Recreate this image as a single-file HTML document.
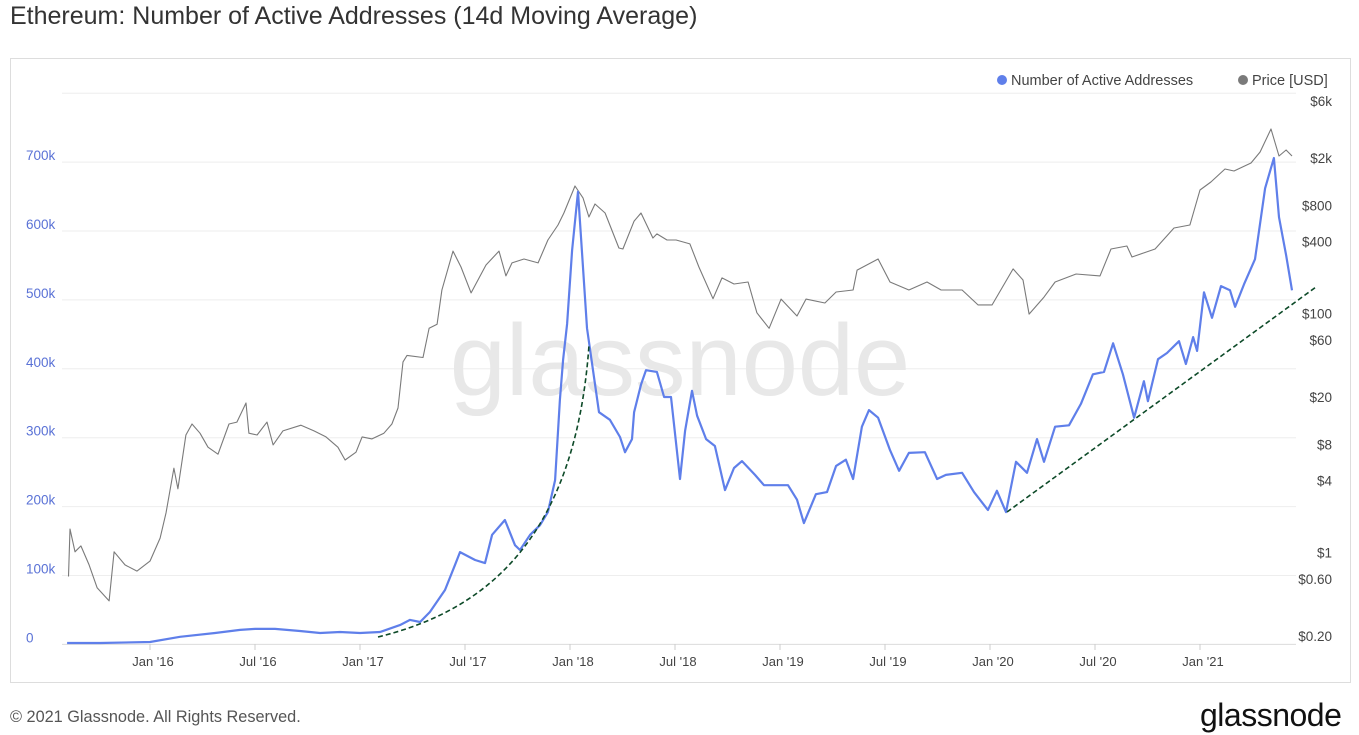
<!DOCTYPE html>
<html><head><meta charset="utf-8"><style>
body{margin:0;background:#fff;width:1359px;height:735px;overflow:hidden;font-family:"Liberation Sans",sans-serif;}
#title{position:absolute;left:10px;top:2px;font-size:25px;color:#333;}
#box{position:absolute;left:10px;top:58px;width:1339px;height:623px;border:1px solid #ddd;}
#footer{position:absolute;left:10px;top:708px;font-size:16.3px;color:#555;}
#logo{position:absolute;left:1200px;top:697px;font-size:32px;color:#111;letter-spacing:-0.5px;}
svg{position:absolute;left:0;top:0;}
</style></head><body>
<div id="title">Ethereum: Number of Active Addresses (14d Moving Average)</div>
<div id="box"></div>
<svg id="chart" width="1359" height="735"></svg>
<div id="footer">© 2021 Glassnode. All Rights Reserved.</div>
<div id="logo">glassnode</div>
<script>
const addrDates=[2015.605,2015.762,2016.000,2016.143,2016.310,2016.429,2016.500,2016.595,2016.714,2016.810,2016.905,2017.000,2017.095,2017.190,2017.238,2017.286,2017.333,2017.405,2017.452,2017.476,2017.548,2017.595,2017.629,2017.690,2017.738,2017.762,2017.810,2017.857,2017.895,2017.929,2017.952,2017.967,2017.986,2018.010,2018.038,2018.081,2018.138,2018.190,2018.238,2018.262,2018.295,2018.305,2018.338,2018.362,2018.414,2018.448,2018.481,2018.524,2018.548,2018.581,2018.605,2018.648,2018.690,2018.738,2018.781,2018.819,2018.881,2018.924,2019.038,2019.081,2019.114,2019.171,2019.224,2019.267,2019.314,2019.348,2019.390,2019.424,2019.467,2019.524,2019.567,2019.614,2019.690,2019.748,2019.790,2019.867,2019.924,2019.990,2020.033,2020.076,2020.124,2020.176,2020.224,2020.257,2020.310,2020.376,2020.433,2020.490,2020.543,2020.586,2020.633,2020.686,2020.733,2020.752,2020.800,2020.843,2020.900,2020.933,2020.967,2020.986,2021.019,2021.057,2021.100,2021.143,2021.167,2021.210,2021.262,2021.310,2021.352,2021.376,2021.410,2021.438];
const addrValues=[2000,2000,3500,11000,16500,21000,22500,22500,19500,16500,18000,16500,18000,28000,35500,32500,47000,79000,115000,134000,122500,118000,159000,180500,144000,137000,159000,173000,192000,238500,355000,413000,465000,572000,657000,459000,337000,326000,301000,279000,298000,337000,377000,398000,395500,359000,359000,240000,310000,368000,332000,298000,288000,224000,256000,266000,246000,231000,231000,210000,176000,218000,221000,259000,268000,240000,316000,340000,329000,282000,252000,278000,279000,240000,246000,249000,221000,195000,223000,192000,265000,249000,298000,265000,316000,318000,349000,392000,395500,437000,392000,329000,382000,353000,414000,423000,440000,407000,446000,426000,511000,474000,520000,514000,490000,523000,559000,662000,706000,620000,565000,514000];
const priceDates=[2015.612,2015.619,2015.643,2015.671,2015.710,2015.748,2015.805,2015.829,2015.881,2015.938,2016.000,2016.048,2016.076,2016.114,2016.133,2016.171,2016.200,2016.238,2016.276,2016.324,2016.376,2016.414,2016.457,2016.471,2016.510,2016.557,2016.586,2016.633,2016.719,2016.781,2016.838,2016.895,2016.929,2016.981,2017.010,2017.057,2017.114,2017.152,2017.181,2017.205,2017.224,2017.300,2017.329,2017.367,2017.390,2017.443,2017.481,2017.529,2017.567,2017.600,2017.662,2017.695,2017.724,2017.781,2017.848,2017.895,2017.943,2017.971,2018.024,2018.062,2018.090,2018.119,2018.167,2018.233,2018.252,2018.305,2018.338,2018.395,2018.414,2018.462,2018.505,2018.571,2018.614,2018.681,2018.724,2018.781,2018.848,2018.890,2018.948,2019.005,2019.081,2019.124,2019.214,2019.267,2019.348,2019.367,2019.467,2019.524,2019.614,2019.700,2019.767,2019.867,2019.943,2020.010,2020.110,2020.157,2020.186,2020.257,2020.310,2020.410,2020.524,2020.576,2020.652,2020.676,2020.786,2020.876,2020.952,2021.000,2021.052,2021.119,2021.162,2021.243,2021.286,2021.338,2021.376,2021.410,2021.438];
const priceValues=[0.72,1.8,1.16,1.30,0.90,0.58,0.45,1.16,0.90,0.80,0.97,1.51,2.45,5.8,3.9,11.0,13.6,11.4,8.7,7.6,13.6,14.1,20.4,11.4,11.0,14.1,9.1,11.9,13.3,11.9,10.6,8.7,6.8,7.9,10.6,10.2,11.4,13.6,18.5,45,51,49,86,93,180,381,280,170,227,291,381,236,303,327,303,471,630,793,1334,1060,735,944,793,404,396,679,793,490,530,471,471,437,280,152,227,202,210,116,86,151,109,151,140,173,180,264,327,210,180,210,180,180,135,135,270,218,113,157,210,245,236,396,420,340,396,594,630,1236,1442,1850,1782,2080,2570,4000,2378,2672,2378];
const leftTicks=[0,100000,200000,300000,400000,500000,600000,700000];
const leftTickLabels=["0","100k","200k","300k","400k","500k","600k","700k"];
const rightTicks=[6000,2000,800,400,100,60,20,8,4,1,0.6,0.2];
const rightTickLabels=["$6k","$2k","$800","$400","$100","$60","$20","$8","$4","$1","$0.60","$0.20"];
const xTicks=[2016,2016.5,2017,2017.5,2018,2018.5,2019,2019.5,2020,2020.5,2021];
const xTickLabels=["Jan '16","Jul '16","Jan '17","Jul '17","Jan '18","Jul '18","Jan '19","Jul '19","Jan '20","Jul '20","Jan '21"];

const NS="http://www.w3.org/2000/svg";
const svg=document.getElementById('chart');
const xS=t=>150+(t-2016)*210;
const yL=v=>644.4-v/100000*68.9;
const yR=p=>643-Math.log10(p/0.2)*119.5;
function mk(tag,attrs,parent){const e=document.createElementNS(NS,tag);for(const k in attrs)e.setAttribute(k,attrs[k]);(parent||svg).appendChild(e);return e;}

for(let i=0;i<=8;i++){const y=yL(i*100000);
 const g=mk('line',{x1:62,x2:1296,y1:y,y2:y,stroke:'#eeeeee','stroke-width':1});
 
 }
mk('line',{x1:62,x2:1296,y1:644.4,y2:644.4,stroke:'#dddddd','stroke-width':1});
const wm=mk('text',{x:680,y:395,'text-anchor':'middle','font-size':101,fill:'#e8e8e8','font-family':'Liberation Sans, sans-serif'});
wm.textContent='glassnode';


leftTicks.forEach((v,i)=>{const t=mk('text',{x:26,y:yL(v)-2,'font-size':13.5,fill:'#5a72d6'});t.textContent=leftTickLabels[i];
 
 });
rightTicks.forEach((p,i)=>{const t=mk('text',{x:1332,y:yR(p)-2,'text-anchor':'end','font-size':13.5,fill:'#444'});t.textContent=rightTickLabels[i];
 
 });
xTicks.forEach((d,i)=>{const x=xS(d);mk('line',{x1:x,x2:x,y1:644,y2:650,stroke:'#ccc'});
 const t=mk('text',{x:x+3,y:666,'text-anchor':'middle','font-size':13,fill:'#444'});t.textContent=xTickLabels[i];
 
 });
let d='';priceDates.forEach((t,i)=>{d+=(i?'L':'M')+xS(t).toFixed(1)+','+yR(priceValues[i]).toFixed(1);});
const pl=mk('path',{d:d,fill:'none',stroke:'#7a7a7a','stroke-width':1.1,'stroke-linejoin':'round'});


d='';addrDates.forEach((t,i)=>{d+=(i?'L':'M')+xS(t).toFixed(1)+','+yL(addrValues[i]).toFixed(1);});
const al=mk('path',{d:d,fill:'none',stroke:'#5f7fea','stroke-width':2.2,'stroke-linejoin':'round'});


const t1=mk('path',{d:'M378,637 C480,612 575,545 589,345',fill:'none',stroke:'#0d4a28','stroke-width':1.6,'stroke-dasharray':'5,3'});


const t2=mk('line',{x1:1007,y1:512,x2:1316,y2:287,stroke:'#0d4a28','stroke-width':1.6,'stroke-dasharray':'5,3'});


const l1=mk('circle',{cx:1002,cy:80,r:5,fill:'#5f7fea'});


const lt1=mk('text',{x:1011,y:85,'font-size':14.5,fill:'#444'});lt1.textContent='Number of Active Addresses';


const l2=mk('circle',{cx:1243,cy:80,r:5,fill:'#7a7a7a'});


const lt2=mk('text',{x:1252,y:85,'font-size':14.5,fill:'#444'});lt2.textContent='Price [USD]';


</script>
</body></html>
